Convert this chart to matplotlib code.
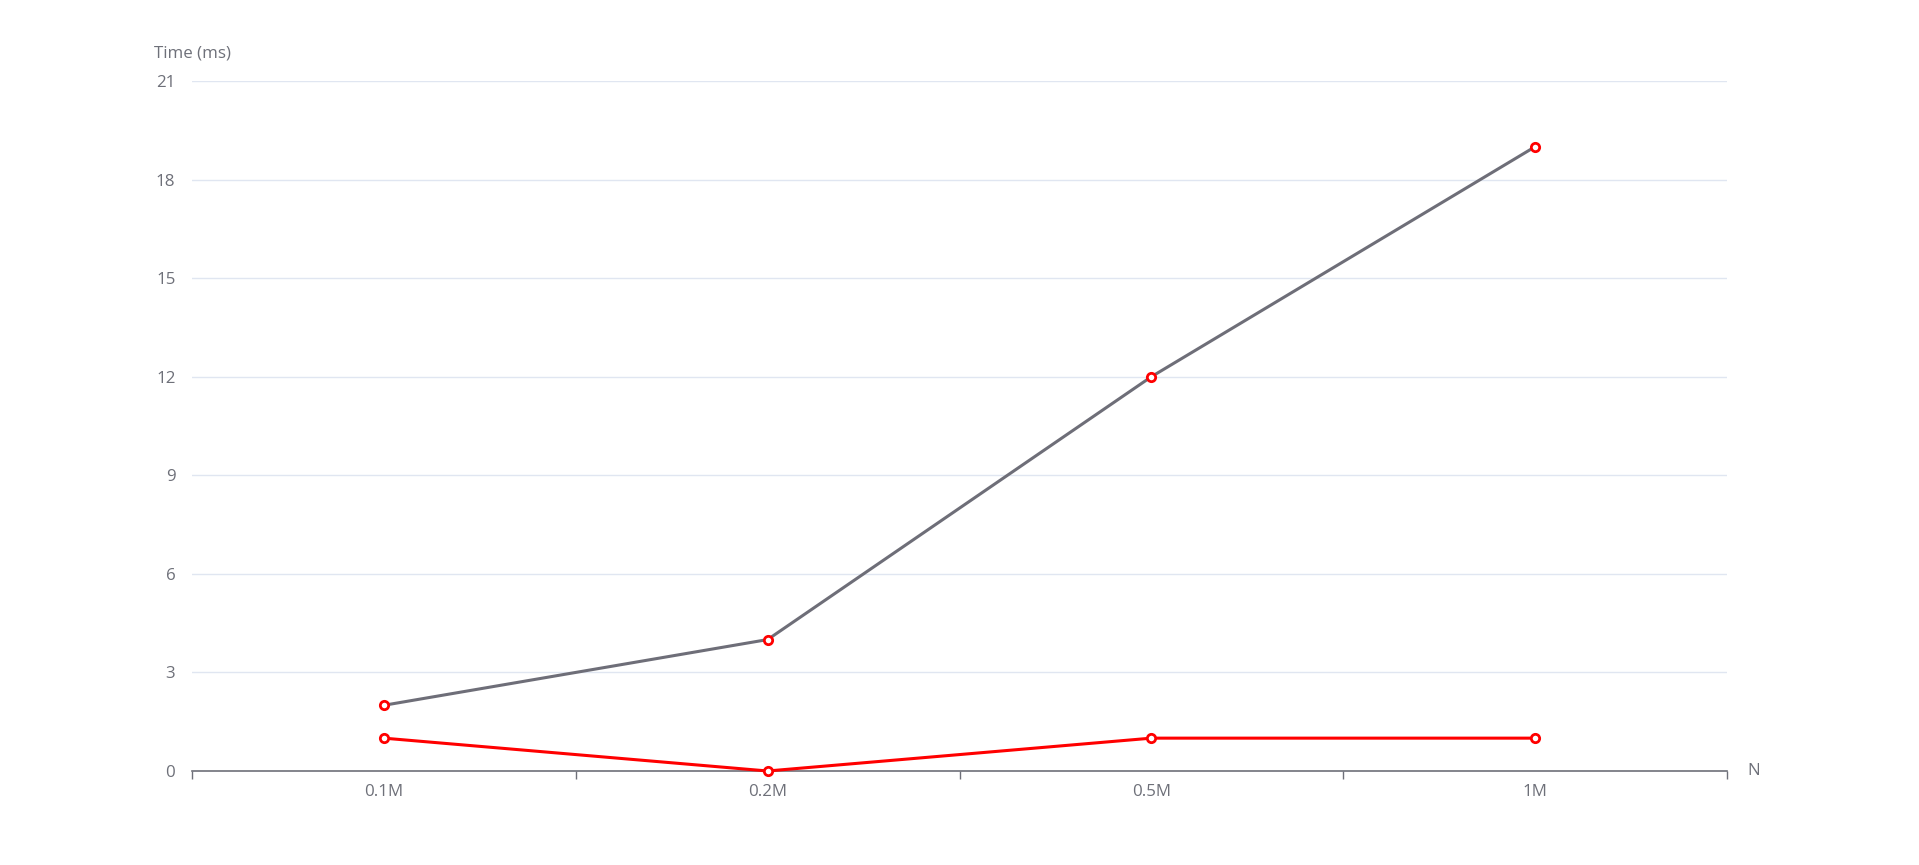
import matplotlib
matplotlib.use("Agg")
import matplotlib.pyplot as plt

categories = ["0.1M", "0.2M", "0.5M", "1M"]
series_gray = [2, 4, 12, 19]
series_red = [1, 0, 1, 1]
y_ticks = [0, 3, 6, 9, 12, 15, 18, 21]

plt.rcParams['font.family'] = ['Open Sans', 'DejaVu Sans']
label_color = "#6E7079"

fig = plt.figure(figsize=(19.19, 8.65), dpi=100)
ax = fig.add_axes([192/1919, 1 - 771/865, (1727-192)/1919, (771-81)/865])

x = list(range(len(categories)))
ax.plot(x, series_gray, color="#6E6E78", lw=2.2, marker="o", ms=6,
        mfc="white", mec="red", mew=2, zorder=3, clip_on=False)
ax.plot(x, series_red, color="red", lw=2.2, marker="o", ms=6,
        mfc="white", mec="red", mew=2, zorder=4, clip_on=False)

ax.set_xlim(-0.5, len(categories) - 0.5)
ax.set_ylim(0, 21)
ax.set_yticks(y_ticks)
ax.yaxis.grid(True, color="#E0E6F1", lw=1)
ax.set_axisbelow(True)

ax.set_xticks([i - 0.5 for i in range(len(categories) + 1)])
ax.set_xticklabels([])
ax.set_xticks(x, minor=True)
ax.set_xticklabels(categories, minor=True)
ax.tick_params(axis="x", which="major", length=6, width=1, color=label_color, direction="out")
ax.tick_params(axis="x", which="minor", length=0, pad=9, labelsize=12.2, labelcolor=label_color)
ax.tick_params(axis="y", length=0, pad=12, labelsize=12.2, labelcolor=label_color)

for s in ["top", "right", "left"]:
    ax.spines[s].set_visible(False)
ax.spines["bottom"].set_color(label_color)
ax.spines["bottom"].set_linewidth(1.2)

ax.text(0, 1.028, "Time (ms)", transform=ax.transAxes, ha="center", va="bottom",
        fontsize=12.2, color=label_color)
ax.text(1.0 + 20/1535, 0, "N", transform=ax.transAxes, ha="left", va="center",
        fontsize=12.2, color=label_color)

fig.savefig("out.png", dpi=100, facecolor="white")
